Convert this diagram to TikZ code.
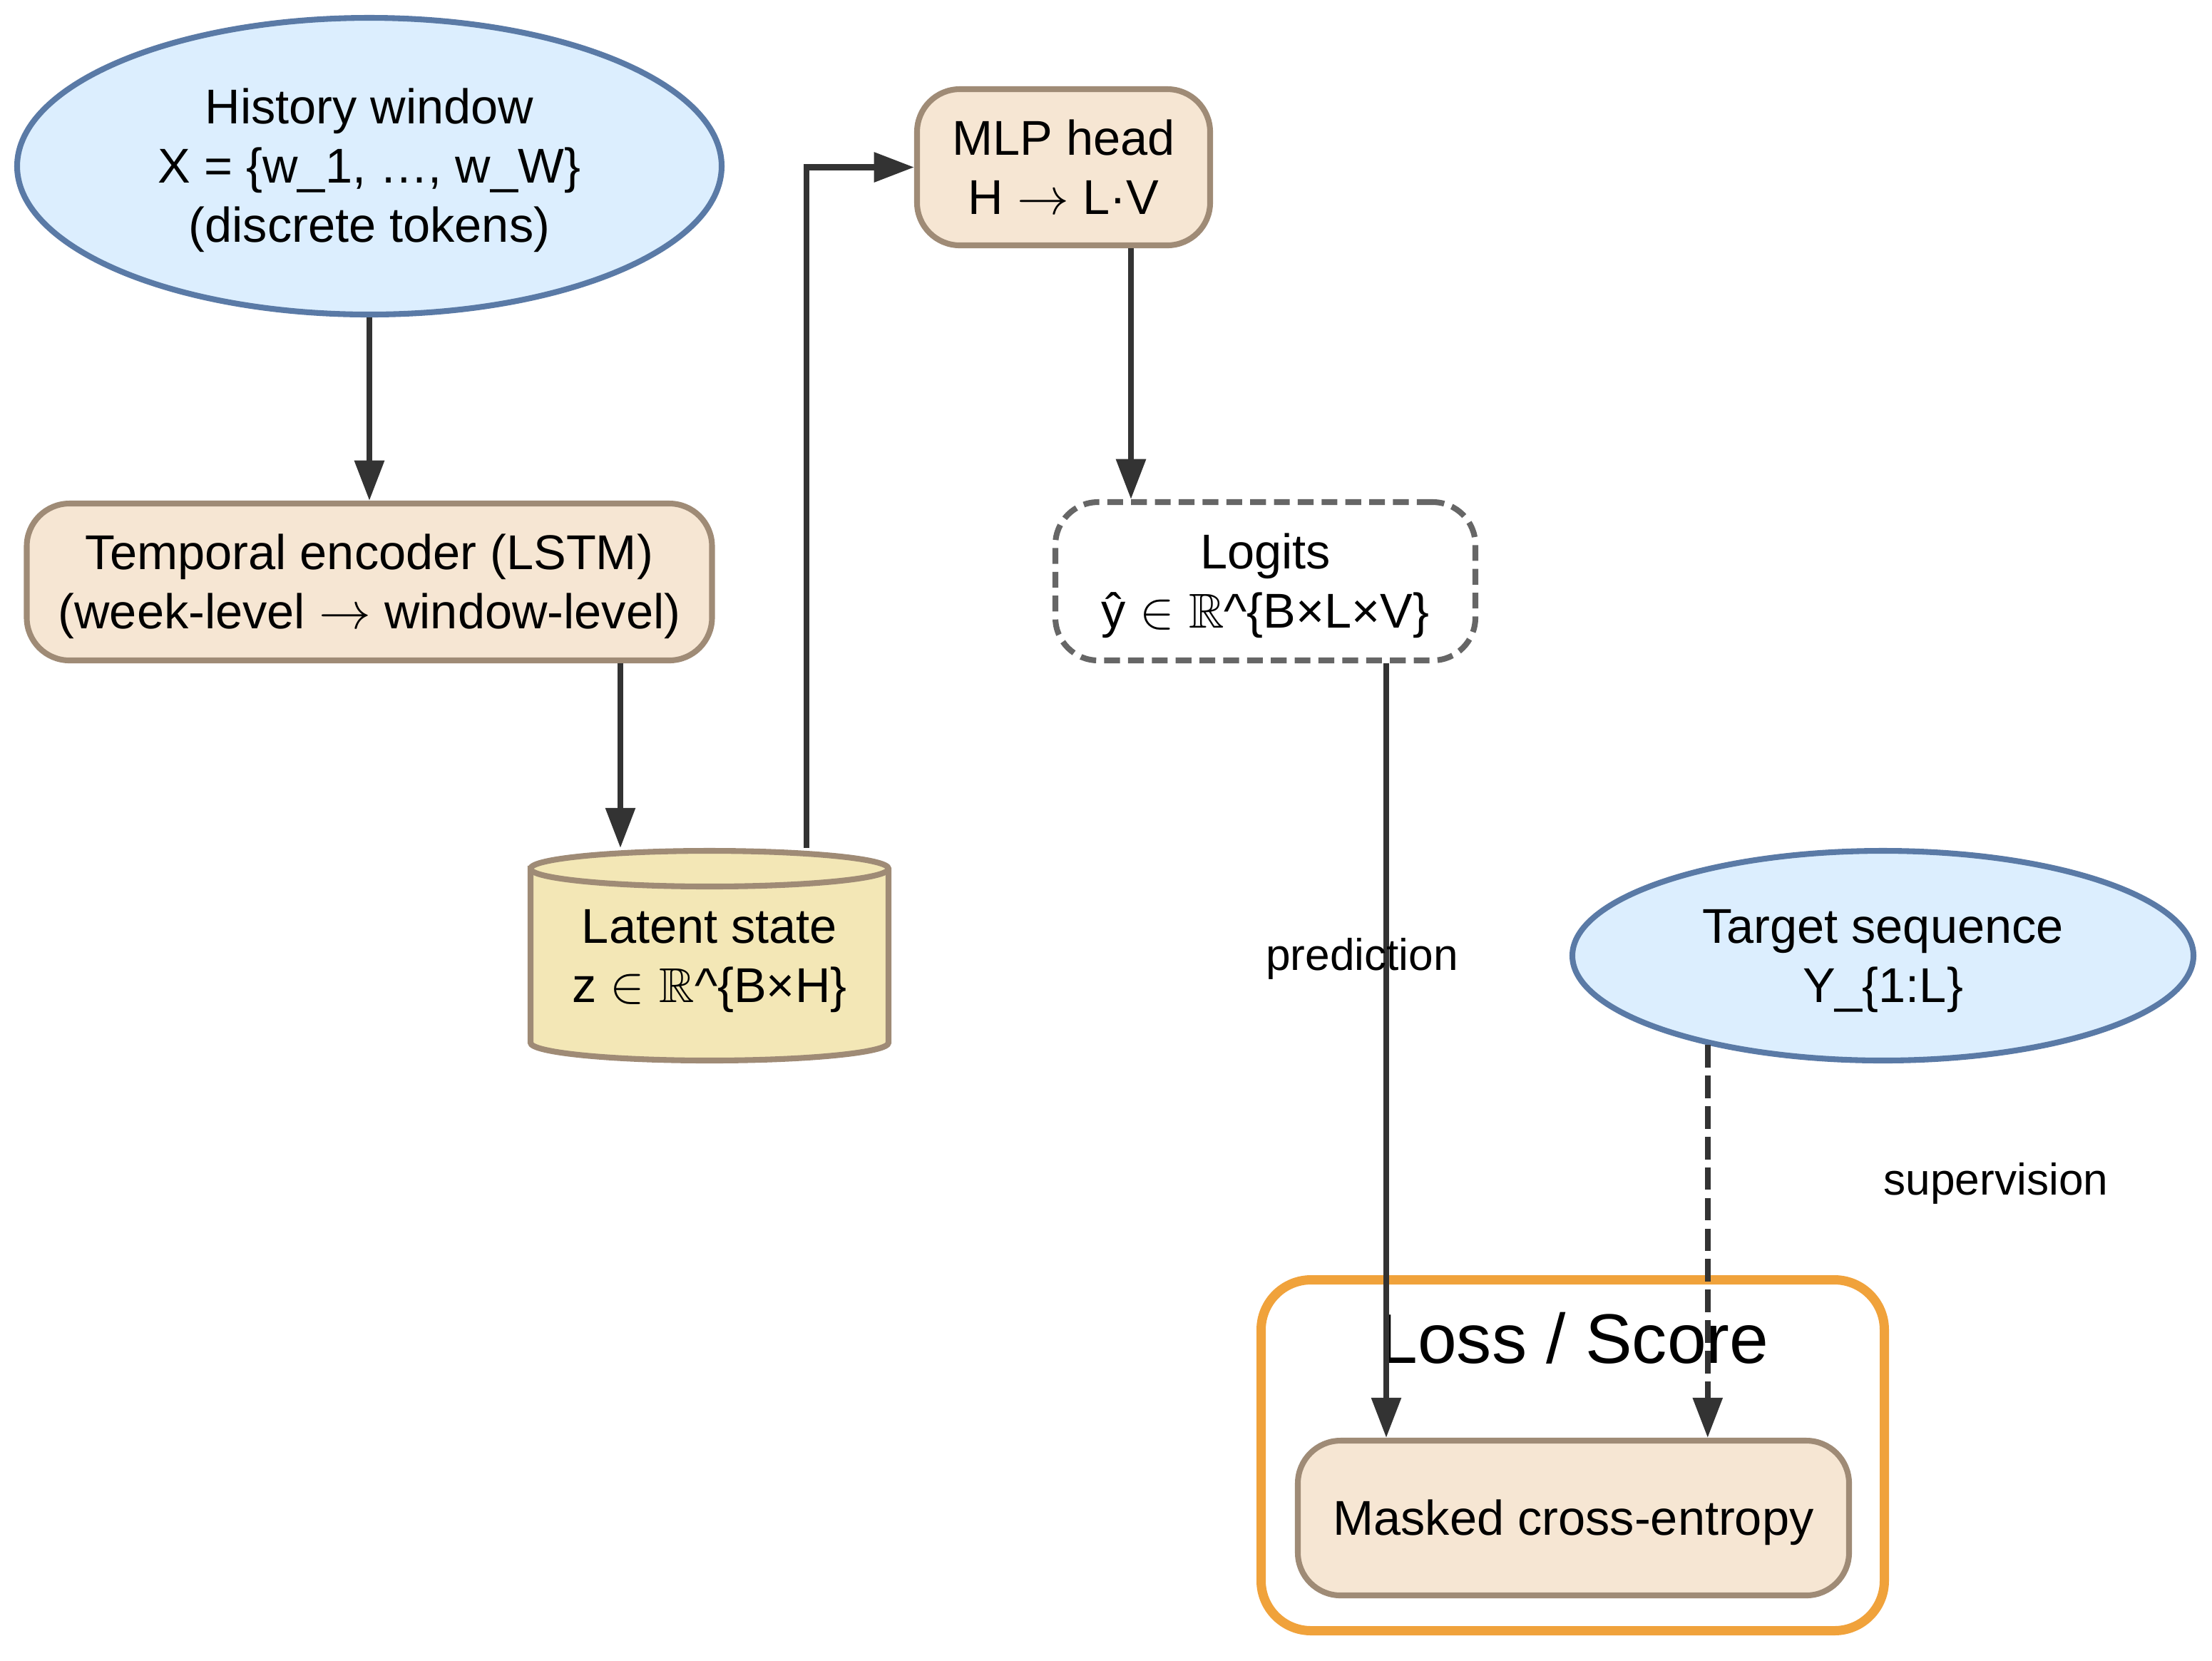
\documentclass[tikz,border=0pt]{standalone}
\usepackage{amssymb}
\usepackage{fontspec}
\setmainfont{Liberation Sans}
\usetikzlibrary{shapes.geometric,arrows.meta}
\definecolor{ellfill}{HTML}{DCEEFE}
\definecolor{ellbord}{HTML}{5A7AA6}
\definecolor{boxfill}{HTML}{F6E6D3}
\definecolor{boxbord}{HTML}{9F8B76}
\definecolor{cylfill}{HTML}{F3E7B6}
\definecolor{orangec}{HTML}{F0A23B}
\definecolor{edgec}{HTML}{333333}
\definecolor{dashc}{HTML}{666666}
\newcommand{\topstrut}{\rule{0pt}{17.5pt}}
\begin{document}
\begin{tikzpicture}[
  base/.style={align=center, font=\fontsize{19.5}{23.6}\selectfont, inner sep=0pt, line width=2.3pt},
  ell/.style={base, ellipse, draw=ellbord, fill=ellfill},
  rbox/.style={base, rectangle, rounded corners=0.6cm, draw=boxbord, fill=boxfill},
  dbox/.style={base, rectangle, rounded corners=0.6cm, draw=dashc, fill=white, dash pattern=on 6.3pt off 3.2pt},
  cyltext/.style={base, rectangle},
  clusterbox/.style={rectangle, rounded corners=0.7cm, draw=orangec, line width=3.7pt, fill=white},
  arr/.style={draw=edgec, line width=2.3pt, -{Triangle[length=16pt,width=11.5pt]}},
  dasharr/.style={arr, dash pattern=on 9pt off 3.2pt},
  elabel/.style={font=\fontsize{17.7}{21}\selectfont, inner sep=0pt, anchor=base},
  clabel/.style={font=\fontsize{28}{33}\selectfont, inner sep=0pt, anchor=base}
]
\useasboundingbox (0,0) rectangle (31.02,-23.28);

% cluster
\node[clusterbox, minimum width=8.74cm, minimum height=4.92cm] (clus) at (22.055,-20.405) {};
\node[clabel] (clustitle) at (22.07,-19.11) {Loss / Score};

% nodes
\node[ell, minimum width=9.88cm, minimum height=4.16cm] (hist) at (5.18,-2.33)
  {\topstrut History window\\X = \{w\_1, …, w\_W\}\\(discrete tokens)};
\node[rbox, minimum width=9.61cm, minimum height=2.20cm] (enc) at (5.18,-8.16)
  {\topstrut Temporal encoder (LSTM)\\(week-level $\rightarrow$ window-level)};

% cylinder (latent state)
\path[fill=cylfill, draw=boxbord, line width=2.3pt]
  (7.44,-12.18) -- (7.44,-14.62)
  arc[start angle=180, end angle=360, x radius=2.51, y radius=0.25]
  -- (12.46,-12.18)
  arc[start angle=0, end angle=180, x radius=2.51, y radius=0.25] -- cycle;
\draw[draw=boxbord, line width=2.3pt]
  (7.44,-12.18) arc[start angle=180, end angle=360, x radius=2.51, y radius=0.25];
\node[cyltext, minimum width=5.02cm, minimum height=2.94cm] (lat) at (9.95,-13.40)
  {\topstrut Latent state\\z $\in\mathbb{R}$\textasciicircum\{B×H\}};

\node[rbox, minimum width=4.11cm, minimum height=2.19cm] (mlp) at (14.915,-2.345)
  {MLP head\\H $\rightarrow$ L·V};
\node[dbox, minimum width=5.89cm, minimum height=2.22cm] (logit) at (17.745,-8.15)
  {\topstrut Logits\\ŷ $\in\mathbb{R}$\textasciicircum\{B×L×V\}};
\node[ell, minimum width=8.71cm, minimum height=2.94cm] (tgt) at (26.405,-13.40)
  {\topstrut Target sequence\\Y\_\{1:L\}};
\node[rbox, minimum width=7.73cm, minimum height=2.17cm] (mce) at (22.065,-21.285)
  {\topstrut Masked cross-entropy};

% edges
\draw[arr] (hist.south) -- (enc.north);
\draw[arr] ([xshift=3.52cm]enc.south) -- ([xshift=3.52cm]enc.south |- lat.north);
\draw[arr] ([xshift=1.36cm]lat.north) |- (mlp.west);
\draw[arr] ([xshift=0.945cm]mlp.south) -- ([xshift=0.945cm]mlp.south |- logit.north);
\draw[arr] ([xshift=1.695cm]logit.south) -- ([xshift=1.695cm]logit.south |- mce.north);
\draw[dasharr] (tgt.207.15) -- (tgt.207.15 |- mce.north);

% edge labels
\node[elabel] (lpred) at (19.10,-13.60) {prediction};
\node[elabel] (lsup) at (27.99,-16.75) {supervision};
\end{tikzpicture}
\end{document}
